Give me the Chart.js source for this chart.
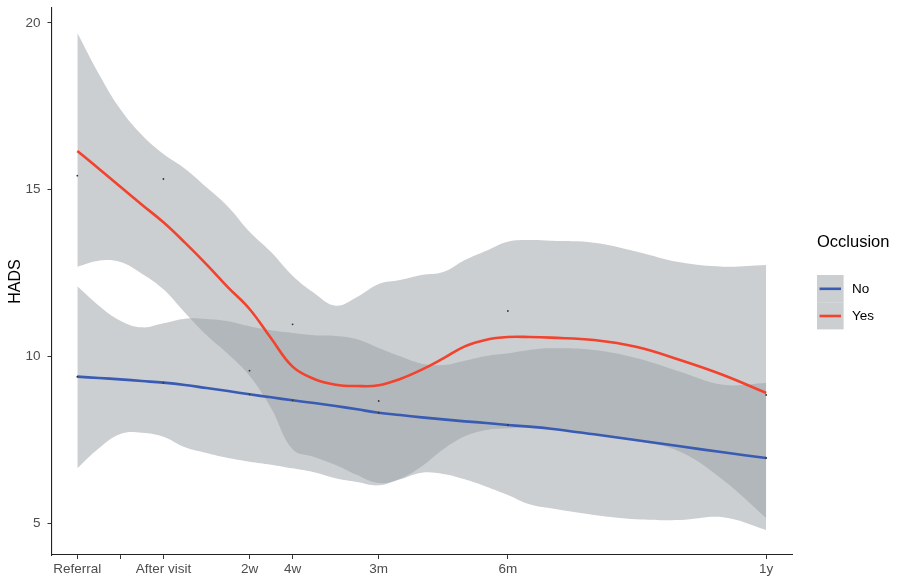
<!DOCTYPE html>
<html>
<head>
<meta charset="utf-8">
<script src="https://cdn.jsdelivr.net/npm/chart.js@4/dist/chart.umd.min.js"></script>
<style>
  html, body { margin: 0; padding: 0; background: #fff; }
  #wrap { width: 898px; height: 576px; }
</style>
</head>
<body>
<div id="wrap"><canvas id="hadsChart" width="898" height="576"></canvas></div>
<script>
// time axis: positions of each visit and their labels
const timeTicks = [0, 1, 2, 4, 5, 7, 10, 16];
const timeLabels = ['Referral', '', 'After visit', '2w', '4w', '3m', '6m', '1y'];

// smoothed fit + confidence band, sampled along the time axis
const fitX = [0, 0.5, 1, 1.5, 2, 2.5, 3, 3.5, 4, 4.5, 5, 5.5, 6, 6.5, 7, 7.5, 8, 8.5, 9, 9.5, 10, 10.5, 11, 12, 13, 14, 15, 16];

const yesFit   = [16.16, 15.63, 15.09, 14.55, 14.02, 13.41, 12.76, 12.07, 11.42, 10.54, 9.69, 9.32, 9.15, 9.11, 9.13, 9.32, 9.6, 9.94, 10.3, 10.5, 10.58, 10.58, 10.56, 10.49, 10.28, 9.89, 9.44, 8.9];
const yesUpper = [19.7, 18.47, 17.41, 16.64, 16.07, 15.63, 15.07, 14.49, 13.74, 13.13, 12.42, 11.9, 11.52, 11.78, 12.17, 12.29, 12.44, 12.53, 12.89, 13.17, 13.44, 13.49, 13.47, 13.41, 13.14, 12.82, 12.69, 12.74];
const yesLower = [12.69, 12.87, 12.83, 12.48, 12.01, 11.31, 10.64, 10.07, 9.42, 8.45, 7.21, 6.98, 6.74, 6.44, 6.2, 6.33, 6.7, 7.21, 7.6, 7.79, 7.84, 7.88, 7.82, 7.67, 7.46, 7.14, 6.29, 5.15];

const noFit   = [9.39, 9.35, 9.31, 9.26, 9.21, 9.14, 9.05, 8.96, 8.86, 8.77, 8.68, 8.6, 8.51, 8.41, 8.31, 8.24, 8.17, 8.11, 8.05, 8.0, 7.94, 7.89, 7.83, 7.66, 7.48, 7.3, 7.12, 6.95];
const noUpper = [12.1, 11.52, 11.07, 10.87, 10.99, 11.13, 11.12, 11.05, 10.9, 10.78, 10.7, 10.63, 10.61, 10.51, 10.25, 10.0, 9.78, 9.74, 9.87, 10.01, 10.09, 10.19, 10.24, 10.19, 9.94, 9.54, 9.15, 9.2];
const noLower = [6.64, 7.24, 7.67, 7.71, 7.59, 7.27, 7.1, 6.95, 6.84, 6.75, 6.64, 6.52, 6.34, 6.23, 6.13, 6.31, 6.51, 6.47, 6.31, 6.09, 5.84, 5.56, 5.44, 5.24, 5.11, 5.09, 5.17, 4.79];

// group means at each visit
const obsX = [0, 2, 4, 5, 7, 10, 16];
const yesMeans = [15.42, 15.32, 9.57, 10.96, 8.66, 11.36, 8.84];
const noMeans = [9.39, 9.21, 8.86, 8.68, 8.31, 7.94, 6.95];

const yTicks = [5, 10, 15, 20];

const RED = '#f2432f';
const BLUE = '#3a5bb3';
const BAND = 'rgba(151, 159, 163, 0.5)';
const FONT = "'Liberation Sans', Arial, Helvetica, sans-serif";

const toXY = (xs, ys) => xs.map((x, i) => ({ x: x, y: ys[i] }));

function band(ys, fill) {
    return {
        data: toXY(fitX, ys),
        borderColor: 'transparent',
        borderWidth: 0,
        backgroundColor: BAND,
        pointRadius: 0,
        tension: 0.4,
        fill: fill
    };
}

function fitLine(ys, color) {
    return {
        data: toXY(fitX, ys),
        borderColor: color,
        borderWidth: 2.6,
        pointRadius: 0,
        tension: 0.4,
        fill: false
    };
}

// legend drawn by hand, ggplot style
const legendPlugin = {
    id: 'occlusionLegend',
    afterDraw(chart) {
        const ctx = chart.ctx;
        ctx.save();
        ctx.fillStyle = '#000';
        ctx.font = '16.5px ' + FONT;
        ctx.textBaseline = 'middle';
        ctx.textAlign = 'left';
        ctx.fillText('Occlusion', 817, 242);

        const keys = [['No', BLUE], ['Yes', RED]];
        keys.forEach((k, i) => {
            const top = 275 + i * 27.2;
            ctx.fillStyle = 'rgb(203, 207, 209)';
            ctx.fillRect(817, top, 26.6, 27.2);
            ctx.strokeStyle = k[1];
            ctx.lineWidth = 2.6;
            ctx.beginPath();
            ctx.moveTo(819.5, top + 13.8);
            ctx.lineTo(841, top + 13.8);
            ctx.stroke();
            ctx.fillStyle = '#000';
            ctx.font = '13.5px ' + FONT;
            ctx.fillText(k[0], 852, top + 14);
        });
        ctx.restore();
    }
};

const ctx = document.getElementById('hadsChart').getContext('2d');

new Chart(ctx, {
    type: 'line',
    data: {
        datasets: [
            {
                data: toXY(obsX, yesMeans).concat(toXY(obsX, noMeans)),
                showLine: false,
                pointRadius: 0.9,
                pointBorderWidth: 0,
                pointBackgroundColor: '#333'
            },
            fitLine(yesFit, RED),
            fitLine(noFit, BLUE),
            band(yesUpper, false),
            band(yesLower, '-1'),
            band(noUpper, false),
            band(noLower, '-1')
        ]
    },
    options: {
        responsive: false,
        animation: false,
        devicePixelRatio: 1,
        layout: { padding: { top: 8, right: 106, bottom: 0, left: 0 } },
        plugins: {
            legend: { display: false },
            tooltip: { enabled: false }
        },
        scales: {
            x: {
                type: 'linear',
                min: -0.6,
                max: 16.6,
                afterBuildTicks: scale => { scale.ticks = timeTicks.map(v => ({ value: v })); },
                afterFit: scale => {
                    scale.height = 21;
                    scale.paddingLeft = 0;
                    scale.paddingRight = 0;
                },
                ticks: {
                    autoSkip: false,
                    maxRotation: 0,
                    padding: 2,
                    color: '#4d4d4d',
                    font: { family: FONT, size: 13.5 },
                    callback: v => timeLabels[timeTicks.indexOf(v)]
                },
                grid: { drawOnChartArea: false, drawTicks: true, tickLength: 4, color: '#333', lineWidth: 1 },
                border: { color: '#222', width: 1.1 }
            },
            y: {
                min: 4.04,
                max: 20.45,
                afterBuildTicks: scale => { scale.ticks = yTicks.map(v => ({ value: v })); },
                afterFit: scale => {
                    scale.width = 51.5;
                    scale.paddingTop = 0;
                    scale.paddingBottom = 0;
                },
                ticks: {
                    padding: 7,
                    color: '#4d4d4d',
                    font: { family: FONT, size: 13.5 },
                    callback: v => String(v)
                },
                grid: { drawOnChartArea: false, drawTicks: true, tickLength: 4, color: '#333', lineWidth: 1 },
                border: { color: '#222', width: 1.1 },
                title: {
                    display: true,
                    text: 'HADS',
                    color: '#000',
                    font: { family: FONT, size: 16 },
                    padding: { top: 6, bottom: 0 }
                }
            }
        }
    },
    plugins: [legendPlugin]
});
</script>
</body>
</html>
